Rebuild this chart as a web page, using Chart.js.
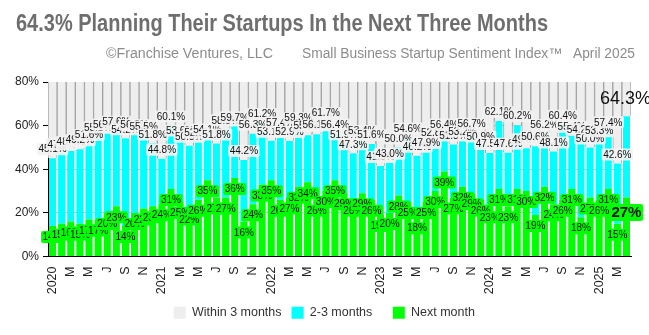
<!DOCTYPE html>
<html>
<head>
<meta charset="utf-8">
<script src="https://cdn.jsdelivr.net/npm/chart.js@4.4.0/dist/chart.umd.min.js"></script>
<style>
  html, body { margin: 0; padding: 0; background: #fff; }
</style>
</head>
<body>
<canvas id="chart" width="649" height="335"></canvas>
<script>
const FONT = "'Liberation Sans', Arial, sans-serif";

// Jan 2020 .. Apr 2025
const years = [2020, 2021, 2022, 2023, 2024, 2025];
const months = ['Jan', 'Feb', 'Mar', 'Apr', 'May', 'Jun', 'Jul', 'Aug', 'Sep', 'Oct', 'Nov', 'Dec'];
const monthTicks = ['', '', 'M', '', 'M', '', 'J', '', 'S', '', 'N', ''];

// share planning to start within 3 months (total of both groups), %
const within3 = [
    45.1, 47.3, 48.4, 49.2, 51.6, 55.1, 56.4, 57.6, 54.2, 56.2, 55.5, 51.8,
    44.8, 60.1, 53.6, 50.8, 52.6, 54.1, 51.8, 58.3, 59.7, 44.2, 56.3, 61.2,
    53.1, 57.4, 52.9, 59.3, 55.6, 56.1, 61.7, 56.4, 51.9, 47.3, 53.4, 51.6,
    41.5, 43.0, 50.0, 54.6, 46.2, 47.9, 52.8, 56.4, 51.3, 53.2, 56.7, 50.9,
    47.5, 62.1, 47.6, 60.2, 49.6, 50.6, 56.2, 48.1, 60.4, 55.4, 54.2, 50.0,
    53.3, 57.4, 42.6, 64.3
];

// share planning to start next month, %
const nextMonth = [
    14, 15, 16, 15, 17, 17, 20, 23, 14, 20, 22, 23,
    24, 31, 25, 22, 26, 35, 27, 27, 36, 16, 24, 33,
    35, 26, 27, 32, 34, 26, 30, 35, 29, 26, 29, 26,
    19, 20, 28, 25, 18, 25, 30, 39, 27, 32, 29, 26,
    23, 31, 23, 31, 30, 19, 32, 24, 26, 31, 18, 27,
    26, 31, 15, 27
];

const categories = [];
const tickText = [];
years.forEach(y => months.forEach((m, k) => {
    if (categories.length >= within3.length) return;
    categories.push(m + ' ' + y);
    tickText.push(k === 0 ? String(y) : monthTicks[k]);
}));

const twoToThree = within3.map((v, i) => +(v - nextMonth[i]).toFixed(1));
const rest = within3.map(v => +(100 - v).toFixed(1));

function tag(ctx, text, x, y, font, fill) {
    ctx.font = font;
    const w = ctx.measureText(text).width + 3;
    const h = parseInt(font.match(/(\d+)px/)[1], 10) + 2;
    if (fill) {
        ctx.fillStyle = fill;
        ctx.beginPath();
        ctx.roundRect(x - w / 2, y - h / 2, w, h, 2);
        ctx.fill();
    }
    ctx.fillStyle = '#111';
    ctx.fillText(text, x, y + 0.5);
}

// value labels on the bars
const barLabels = {
    id: 'barLabels',
    afterDatasetsDraw(chart) {
        const ctx = chart.ctx;
        const green = chart.getDatasetMeta(0).data;
        const cyan = chart.getDatasetMeta(1).data;
        const last = within3.length - 1;
        ctx.save();
        ctx.textAlign = 'center';
        ctx.textBaseline = 'middle';
        within3.forEach((v, i) => {
            const el = cyan[i];
            if (i === last) {
                tag(ctx, v.toFixed(1) + '%', el.x - 1, el.y - 18, '18px ' + FONT, null);
            } else {
                tag(ctx, v.toFixed(1) + '%', el.x, el.y - 9, '10px ' + FONT, 'rgba(242,242,242,0.92)');
            }
        });
        nextMonth.forEach((v, i) => {
            const el = green[i];
            if (i === last) {
                tag(ctx, v + '%', el.x, el.y + 15, 'bold 15px ' + FONT, '#00ff00');
            } else {
                tag(ctx, v + '%', el.x, el.y + 11, '10px ' + FONT, '#00ff00');
            }
        });
        ctx.restore();
    }
};

function fitText(ctx, text, x, baseline, width, font, color) {
    ctx.save();
    ctx.font = font;
    ctx.fillStyle = color;
    ctx.textAlign = 'left';
    ctx.textBaseline = 'alphabetic';
    const w = ctx.measureText(text).width;
    ctx.translate(x, baseline);
    ctx.scale(width / w, 1);
    ctx.fillText(text, 0, 0);
    ctx.restore();
}

// title and source line
const headings = {
    id: 'headings',
    afterDraw(chart) {
        const ctx = chart.ctx;
        fitText(ctx, '64.3% Planning Their Startups In the Next Three Months', 16, 31, 532,
            "bold 23px 'Liberation Sans Narrow', 'Liberation Sans', Arial", '#6e6e6e');
        const sub = "14px 'Liberation Sans', Arial";
        fitText(ctx, '\u00a9Franchise Ventures, LLC', 106, 58, 167, sub, '#8c8c8c');
        fitText(ctx, 'Small Business Startup Sentiment Index\u2122', 302, 58, 260, sub, '#8c8c8c');
        fitText(ctx, 'April 2025', 573, 58, 62, sub, '#8c8c8c');
    }
};

new Chart(document.getElementById('chart'), {
    type: 'bar',
    data: {
        labels: categories,
        datasets: [
            { label: 'Next month', data: nextMonth, backgroundColor: '#00ff00',
              barPercentage: 0.78, categoryPercentage: 1 },
            { label: '2-3 months', data: twoToThree, backgroundColor: '#00ffff',
              barPercentage: 0.78, categoryPercentage: 1 },
            { label: 'Within 3 months', data: rest, backgroundColor: '#eeeeee',
              borderColor: '#a3a3a3', borderWidth: { left: 1, right: 1, top: 0, bottom: 0 },
              borderSkipped: false, barPercentage: 1, categoryPercentage: 1 }
        ]
    },
    options: {
        responsive: false,
        animation: false,
        devicePixelRatio: 1,
        layout: { padding: { top: 82, right: 0, bottom: 6, left: 10 } },
        plugins: {
            tooltip: { enabled: false },
            legend: {
                position: 'bottom',
                reverse: true,
                labels: {
                    boxWidth: 12,
                    boxHeight: 12,
                    padding: 10,
                    color: '#333',
                    font: { size: 12.5, family: FONT },
                    // items sit further apart than the padding alone gives
                    generateLabels: (chart) => Chart.defaults.plugins.legend.labels.generateLabels(chart)
                        .map((l, k, all) => Object.assign(l, {
                            lineWidth: 0,
                            strokeStyle: 'rgba(0,0,0,0)',
                            text: k < all.length - 1 ? l.text + '   ' : l.text
                        }))
                }
            }
        },
        scales: {
            x: {
                stacked: true,
                grid: { display: false },
                border: { color: '#000' },
                ticks: {
                    autoSkip: false, maxRotation: 90, minRotation: 90, padding: 2,
                    color: '#222', font: { size: 12.5, family: FONT },
                    callback: (v, i) => tickText[i]
                },
                afterFit: s => { s.height = 40; }
            },
            y: {
                stacked: true,
                min: 0, max: 80,
                ticks: {
                    stepSize: 20, padding: 4, color: '#222',
                    font: { size: 12, family: FONT },
                    callback: v => v + '%'
                },
                grid: { color: '#c4c4c4', tickLength: 5, tickColor: '#000' },
                border: { color: '#000' },
                afterFit: s => { s.width = 38; }
            },
            // empty right margin, so the legend stays centred on the page
            gap: {
                position: 'right',
                grid: { display: false },
                border: { display: false },
                ticks: { display: false },
                afterFit: s => { s.width = 18; }
            }
        }
    },
    plugins: [barLabels, headings]
});
</script>
</body>
</html>
